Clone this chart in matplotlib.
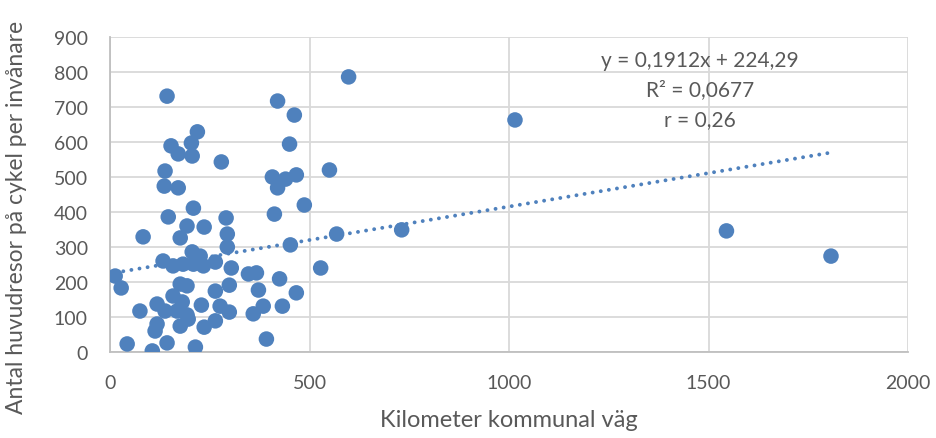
import matplotlib
matplotlib.use("Agg")
import matplotlib.pyplot as plt
import numpy as np

plt.rcParams['font.family'] = ['Lato', 'DejaVu Sans']

# Kilometer kommunal väg
km_road = [598, 1015, 1807, 1545, 731, 568, 550, 528, 487, 467, 462, 420, 450, 407,
           440, 420, 412, 452, 467, 425, 367, 372, 347, 384, 432, 359, 392,
           143, 219, 153, 204, 171, 206, 279, 138, 136, 171, 209, 146, 193, 236,
           291, 83, 176, 294, 294, 13, 28, 133, 158, 206, 226, 209, 183, 234,
           264, 304, 176, 193, 158, 181, 264, 299, 118, 138, 168, 193, 229, 276,
           299, 75, 118, 113, 176, 196, 236, 264, 143, 214, 106, 43]
# Antal huvudresor på cykel per invånare
trips = [786, 663, 274, 346, 349, 337, 520, 240, 420, 506, 677, 717, 594, 500,
         494, 469, 394, 306, 169, 209, 226, 177, 223, 131, 131, 109, 37,
         731, 629, 589, 597, 566, 560, 543, 517, 474, 469, 411, 386, 360, 357,
         383, 329, 326, 337, 300, 217, 183, 260, 246, 286, 274, 251, 251, 246,
         257, 240, 194, 189, 160, 143, 174, 191, 137, 117, 117, 106, 134, 131,
         114, 117, 80, 60, 74, 94, 71, 89, 26, 14, 3, 23]

slope = 0.1912
intercept = 224.29
eq_lines = ["y = 0,1912x + 224,29", "R² = 0,0677", "r = 0,26"]

x_ticks = [0, 500, 1000, 1500, 2000]
y_ticks = [0, 100, 200, 300, 400, 500, 600, 700, 800, 900]

blue = '#4F81BD'
gray_text = '#595959'

fig = plt.figure(figsize=(9.36, 4.39), dpi=100)
ax = fig.add_axes([110/936, 1 - 353/439, (908-110)/936, (353-38)/439])

ax.scatter(km_road, trips, s=125, color=blue, edgecolors='none', zorder=3)

xs = np.array([min(km_road), max(km_road)])
ax.plot(xs, slope * xs + intercept, color=blue, lw=2.8,
        linestyle=(0, (0.01, 2.1)), dash_capstyle='round', zorder=4)

ax.set_xlim(0, 2000)
ax.set_ylim(0, 900)
ax.set_xticks(x_ticks)
ax.set_yticks(y_ticks)
ax.grid(True, color='#D9D9D9', lw=1.3, zorder=0)
ax.set_axisbelow(True)
for s in ['top', 'right']:
    ax.spines[s].set_visible(False)
for s in ['left', 'bottom']:
    ax.spines[s].set_color('#BFBFBF')
    ax.spines[s].set_linewidth(1.3)
ax.tick_params(axis='both', length=0, labelsize=14, labelcolor=gray_text)
ax.tick_params(axis='y', pad=16)
ax.tick_params(axis='x', pad=16)

ax.set_xlabel("Kilometer kommunal väg", fontsize=17, color=gray_text, labelpad=13)
ax.set_ylabel("Antal huvudresor på cykel per invånare", fontsize=16.5, color=gray_text)
ax.yaxis.set_label_coords(-83/798, 0.43)

for i, t in enumerate(eq_lines):
    ax.text(700/936, 1 - (61 + i*29.5)/439, t, transform=fig.transFigure,
            ha='center', va='center', fontsize=15, color=gray_text)

fig.savefig("out.png", dpi=100)
